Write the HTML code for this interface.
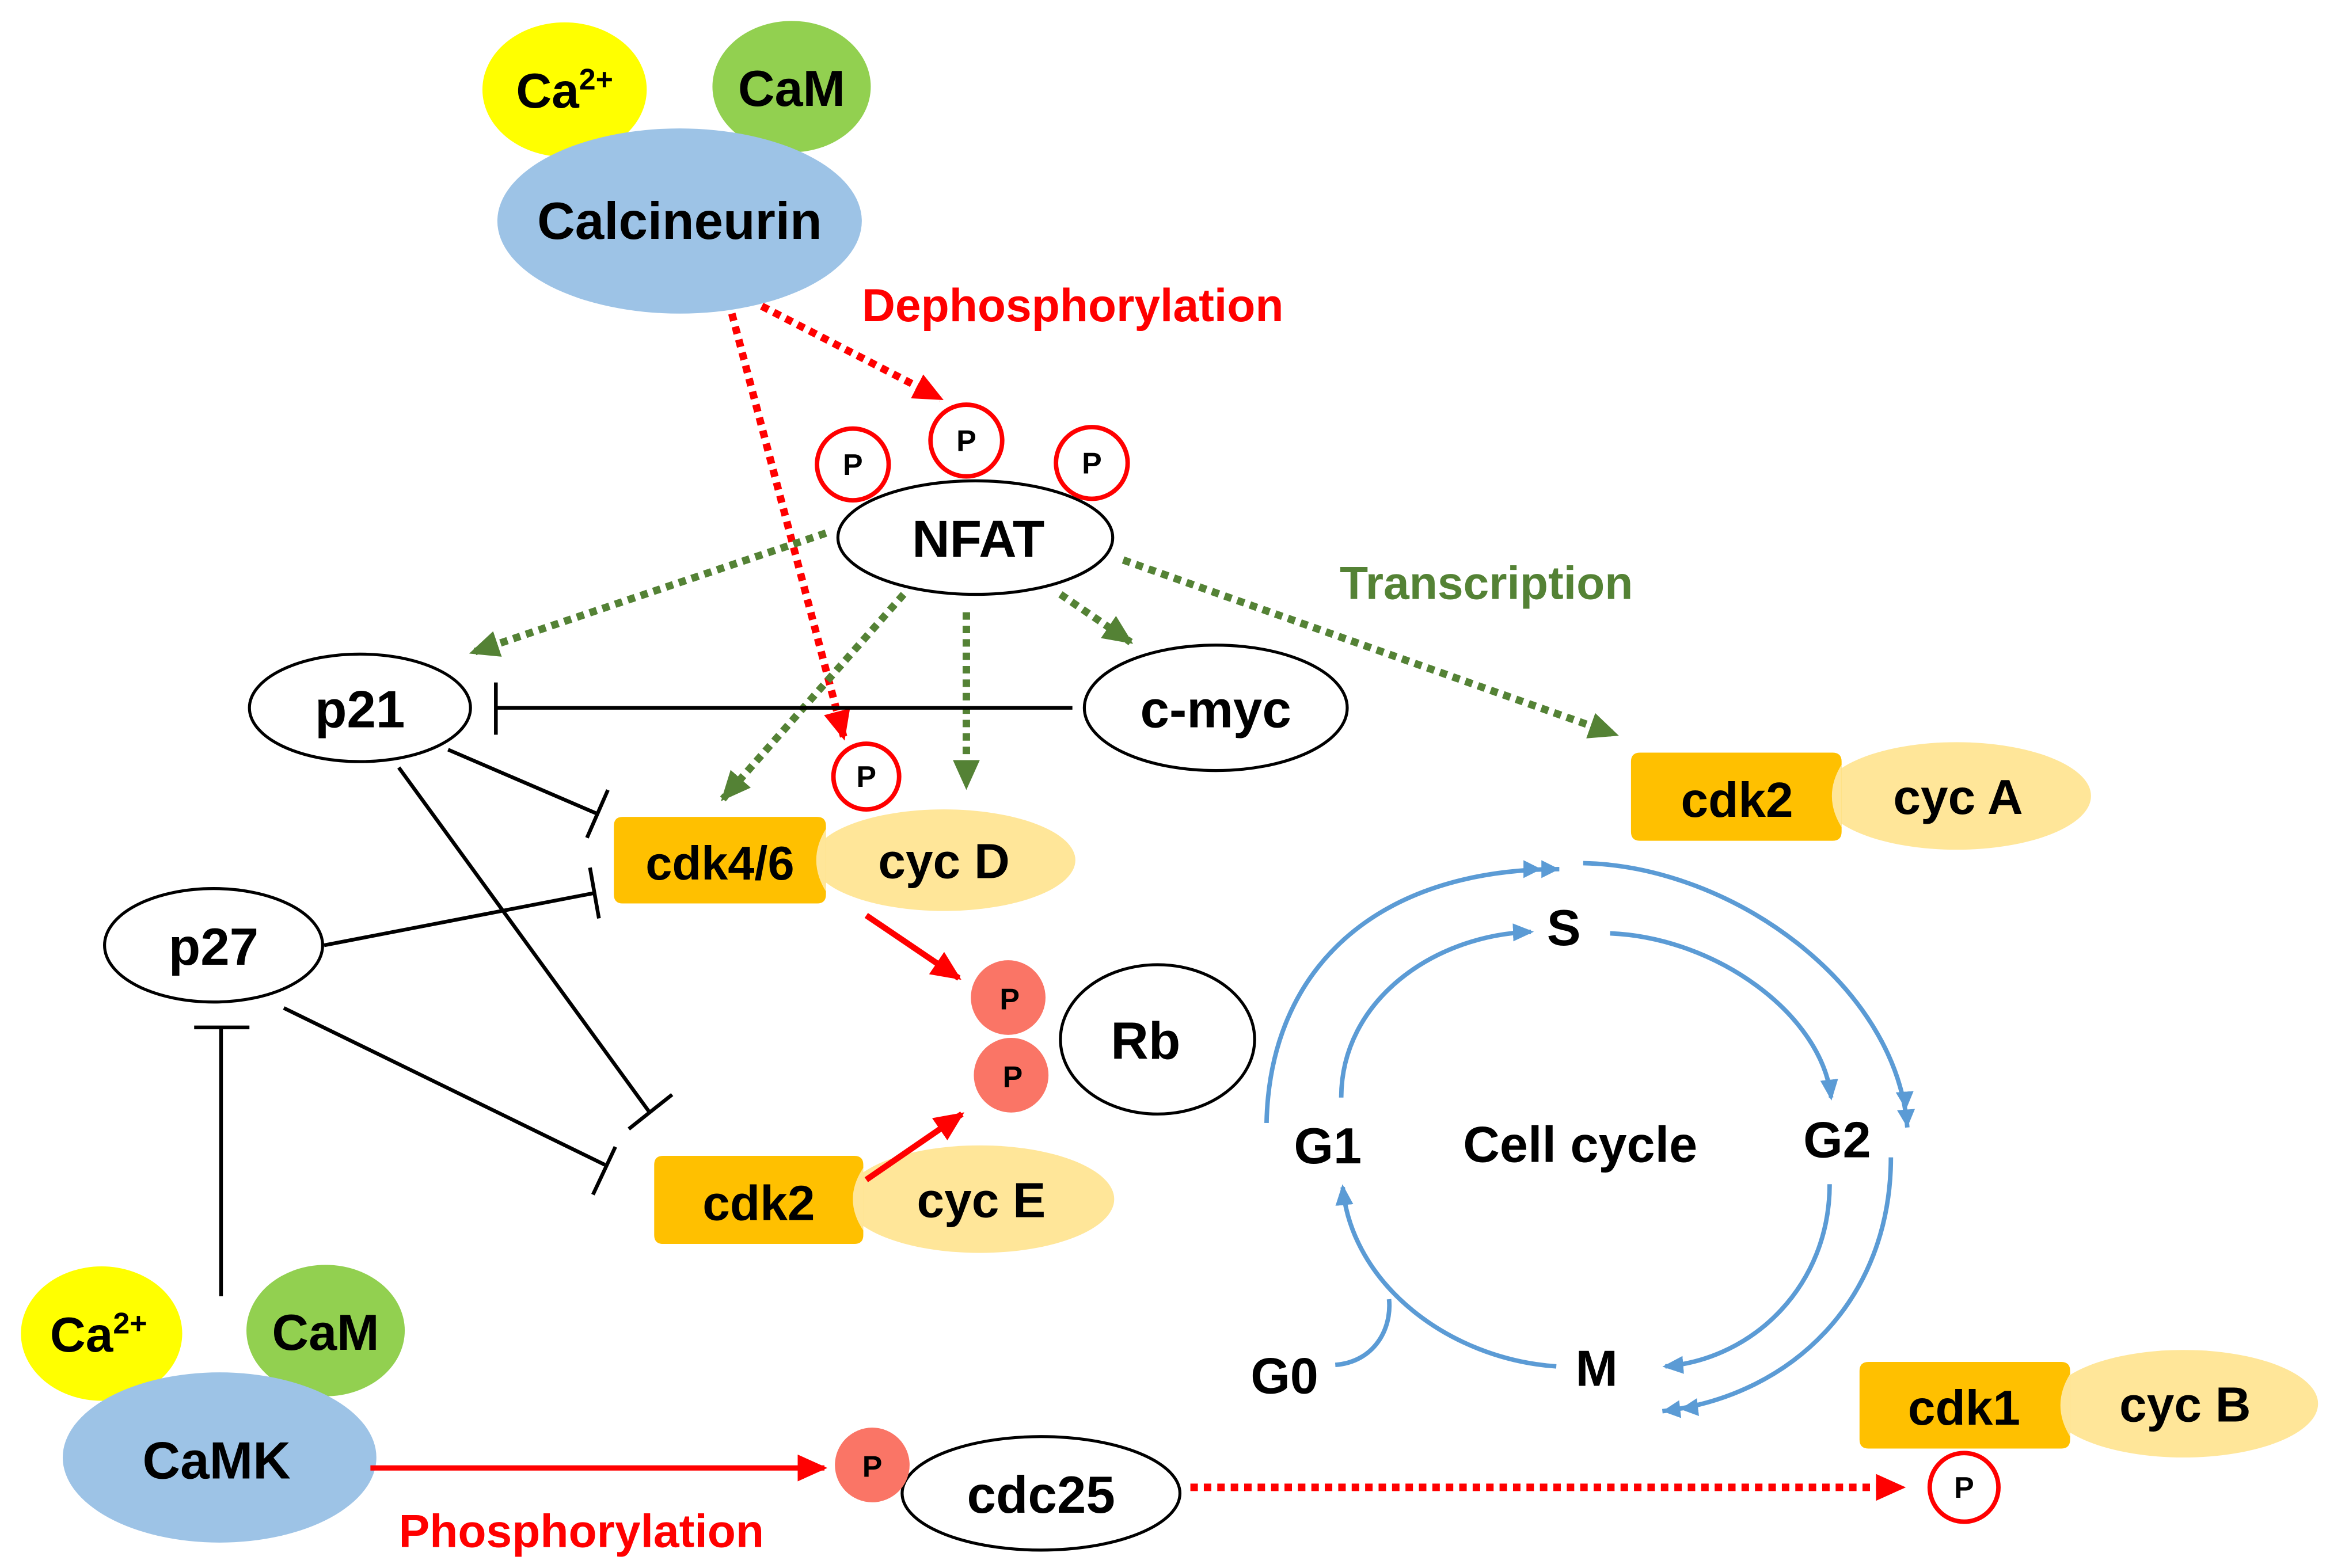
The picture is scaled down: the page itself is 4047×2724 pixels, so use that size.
<!DOCTYPE html>
<html><head><meta charset="utf-8"><style>html,body{margin:0;padding:0;background:#fff}svg{display:block}text{font-family:"Liberation Sans",Arial,sans-serif;font-weight:bold}</style></head>
<body>
<svg width="4047" height="2724" viewBox="0 0 1560 1050" preserveAspectRatio="none" xmlns="http://www.w3.org/2000/svg">
<defs>
<marker id="arR" markerWidth="20" markerHeight="18" refX="18" refY="9" orient="auto" markerUnits="userSpaceOnUse"><path d="M0,0 L20,9 L0,18 z" fill="#f00"/></marker>
<marker id="arG" markerWidth="20" markerHeight="18" refX="18" refY="9" orient="auto" markerUnits="userSpaceOnUse"><path d="M0,0 L20,9 L0,18 z" fill="#548235"/></marker>
<marker id="arB" markerWidth="14" markerHeight="12" refX="12" refY="6" orient="auto" markerUnits="userSpaceOnUse"><path d="M0,0 L14,6 L0,12 z" fill="#5b9bd5"/></marker>
<marker id="arBB" markerWidth="26" markerHeight="12" refX="24" refY="6" orient="auto" markerUnits="userSpaceOnUse"><path d="M0,0 L12,6 L0,12 z M12,0 L24,6 L12,12 z" fill="#5b9bd5"/></marker>
</defs>

<ellipse cx="378" cy="60" rx="55" ry="45" fill="#ffff00"/>
<ellipse cx="530" cy="58" rx="53" ry="44" fill="#92d050"/>
<ellipse cx="455" cy="148" rx="122" ry="62" fill="#9dc3e6"/>
<text x="378" y="72" font-size="33" text-anchor="middle">Ca<tspan font-size="20" dy="-12">2+</tspan></text>
<text x="530" y="71" font-size="34" text-anchor="middle">CaM</text>
<text x="455" y="160" font-size="35" text-anchor="middle">Calcineurin</text>
<text x="577" y="215" font-size="31" fill="#f00">Dephosphorylation</text>

<line x1="510" y1="205" x2="630" y2="267" stroke="#f00" stroke-width="5" stroke-dasharray="5,4" marker-end="url(#arR)"/>
<line x1="490" y1="210" x2="565" y2="494" stroke="#f00" stroke-width="5" stroke-dasharray="5,4" marker-end="url(#arR)"/>

<g stroke="#548235" stroke-width="5" stroke-dasharray="5,4" fill="none">
<line x1="553" y1="357" x2="316" y2="437" marker-end="url(#arG)"/>
<line x1="605" y1="398" x2="484" y2="535" marker-end="url(#arG)"/>
<line x1="647" y1="410" x2="647" y2="527" marker-end="url(#arG)"/>
<line x1="710" y1="398" x2="757" y2="430" marker-end="url(#arG)"/>
<line x1="752" y1="375" x2="1082" y2="492" marker-end="url(#arG)"/>
</g>
<text x="897" y="401" font-size="31" fill="#548235">Transcription</text>

<ellipse cx="653" cy="360" rx="92" ry="38" fill="#fff" stroke="#000" stroke-width="2"/>
<text x="655" y="373" font-size="35" text-anchor="middle">NFAT</text>
<g fill="#fff" stroke="#f00" stroke-width="3">
<circle cx="571" cy="311" r="24"/><circle cx="647" cy="295" r="24"/><circle cx="731" cy="310" r="24"/>
<circle cx="580" cy="520" r="22"/><circle cx="1315" cy="996" r="23"/>
</g>
<g font-size="20" text-anchor="middle">
<text x="571" y="318">P</text><text x="647" y="302">P</text><text x="731" y="317">P</text>
<text x="580" y="527">P</text><text x="1315" y="1003">P</text>
</g>

<ellipse cx="241" cy="474" rx="74" ry="36" fill="#fff" stroke="#000" stroke-width="2"/>
<text x="241" y="487" font-size="35" text-anchor="middle">p21</text>
<ellipse cx="814" cy="474" rx="88" ry="42" fill="#fff" stroke="#000" stroke-width="2"/>
<text x="814" y="487" font-size="35" text-anchor="middle">c-myc</text>
<ellipse cx="143" cy="633" rx="73" ry="38" fill="#fff" stroke="#000" stroke-width="2"/>
<text x="143" y="646" font-size="35" text-anchor="middle">p27</text>

<g stroke="#000" stroke-width="2.5" fill="none">
<line x1="718" y1="474" x2="332" y2="474"/><line x1="332" y1="457" x2="332" y2="492"/>
<line x1="300" y1="502" x2="400" y2="545"/><line x1="393" y1="561" x2="407" y2="529"/>
<line x1="217" y1="633" x2="398" y2="598"/><line x1="395" y1="581" x2="401" y2="615"/>
<line x1="267" y1="514" x2="435" y2="745"/><line x1="421" y1="756" x2="450" y2="733"/>
<line x1="190" y1="675" x2="405" y2="780"/><line x1="397" y1="800" x2="412" y2="768"/>
<line x1="148" y1="868" x2="148" y2="688"/><line x1="130" y1="688" x2="167" y2="688"/>
</g>

<ellipse cx="632" cy="576" rx="88" ry="34" fill="#ffe699"/>
<path d="M417,547 H547 Q553,547 553,553 V599 Q553,605 547,605 H417 Q411,605 411,599 V553 Q411,547 417,547 z" fill="#ffc000"/>
<path d="M553,555 Q540,576 553,597 z" fill="#ffe699"/>
<text x="482" y="589" font-size="32" text-anchor="middle">cdk4/6</text>
<text x="632" y="588" font-size="33" text-anchor="middle">cyc D</text>

<ellipse cx="775" cy="696" rx="65" ry="50" fill="#fff" stroke="#000" stroke-width="2"/>
<text x="767" y="709" font-size="35" text-anchor="middle">Rb</text>
<circle cx="675" cy="668" r="25" fill="#fa7566"/><circle cx="677" cy="720" r="25" fill="#fa7566"/>
<text x="676" y="676" font-size="20" text-anchor="middle">P</text><text x="678" y="728" font-size="20" text-anchor="middle">P</text>

<ellipse cx="656" cy="803" rx="90" ry="36" fill="#ffe699"/>
<path d="M444,774 H572 Q578,774 578,780 V827 Q578,833 572,833 H444 Q438,833 438,827 V780 Q438,774 444,774 z" fill="#ffc000"/>
<path d="M578,782 Q564,803 578,824 z" fill="#ffe699"/>
<text x="508" y="817" font-size="33" text-anchor="middle">cdk2</text>
<text x="657" y="815" font-size="33" text-anchor="middle">cyc E</text>

<line x1="580" y1="613" x2="642" y2="655" stroke="#f00" stroke-width="4" marker-end="url(#arR)"/>
<line x1="580" y1="790" x2="644" y2="746" stroke="#f00" stroke-width="4" marker-end="url(#arR)"/>

<ellipse cx="1310" cy="533" rx="90" ry="36" fill="#ffe699"/>
<path d="M1098,504 H1227 Q1233,504 1233,510 V557 Q1233,563 1227,563 H1098 Q1092,563 1092,557 V510 Q1092,504 1098,504 z" fill="#ffc000"/>
<path d="M1233,512 Q1220,533 1233,554 z" fill="#ffe699"/>
<text x="1163" y="547" font-size="33" text-anchor="middle">cdk2</text>
<text x="1311" y="545" font-size="33" text-anchor="middle">cyc A</text>

<ellipse cx="1462" cy="940" rx="90" ry="36" fill="#ffe699"/>
<path d="M1251,912 H1380 Q1386,912 1386,918 V964 Q1386,970 1380,970 H1251 Q1245,970 1245,964 V918 Q1245,912 1251,912 z" fill="#ffc000"/>
<path d="M1386,920 Q1373,941 1386,962 z" fill="#ffe699"/>
<text x="1315" y="954" font-size="33" text-anchor="middle">cdk1</text>
<text x="1463" y="952" font-size="33" text-anchor="middle">cyc B</text>

<g stroke="#5b9bd5" stroke-width="3" fill="none">
<path d="M898,735 C898,670 960,626 1025,624" marker-end="url(#arB)"/>
<path d="M1078,625 C1150,628 1220,680 1226,735" marker-end="url(#arB)"/>
<path d="M1225,793 C1225,860 1175,910 1115,915" marker-end="url(#arB)"/>
<path d="M1042,915 C970,910 905,860 899,795" marker-end="url(#arB)"/>
<path d="M848,752 C850,650 920,582 1044,582" marker-end="url(#arBB)"/>
<path d="M1060,578 C1160,580 1270,660 1277,755" marker-end="url(#arBB)"/>
<path d="M1266,775 C1266,870 1200,935 1113,945" marker-end="url(#arBB)"/>
<path d="M894,914 C920,912 932,890 930,870"/>
</g>
<g font-size="34">
<text x="889" y="779" text-anchor="middle">G1</text>
<text x="1047" y="633" text-anchor="middle">S</text>
<text x="1230" y="775" text-anchor="middle">G2</text>
<text x="1069" y="928" text-anchor="middle">M</text>
<text x="860" y="933" text-anchor="middle">G0</text>
<text x="1058" y="778" text-anchor="middle">Cell cycle</text>
</g>

<ellipse cx="68" cy="893" rx="54" ry="45" fill="#ffff00"/>
<ellipse cx="218" cy="891" rx="53" ry="44" fill="#92d050"/>
<ellipse cx="147" cy="976" rx="105" ry="57" fill="#9dc3e6"/>
<text x="66" y="905" font-size="33" text-anchor="middle">Ca<tspan font-size="20" dy="-12">2+</tspan></text>
<text x="218" y="904" font-size="34" text-anchor="middle">CaM</text>
<text x="145" y="990" font-size="35" text-anchor="middle">CaMK</text>

<line x1="248" y1="983" x2="552" y2="983" stroke="#f00" stroke-width="3.5" marker-end="url(#arR)"/>
<text x="267" y="1036" font-size="31" fill="#f00">Phosphorylation</text>
<ellipse cx="697" cy="1000" rx="93" ry="38" fill="#fff" stroke="#000" stroke-width="2"/>
<text x="697" y="1013" font-size="35" text-anchor="middle">cdc25</text>
<circle cx="584" cy="981" r="25" fill="#fa7566"/>
<text x="584" y="989" font-size="20" text-anchor="middle">P</text>
<line x1="797" y1="996" x2="1274" y2="996" stroke="#f00" stroke-width="5" stroke-dasharray="5,4" marker-end="url(#arR)"/>
</svg>
</body></html>
